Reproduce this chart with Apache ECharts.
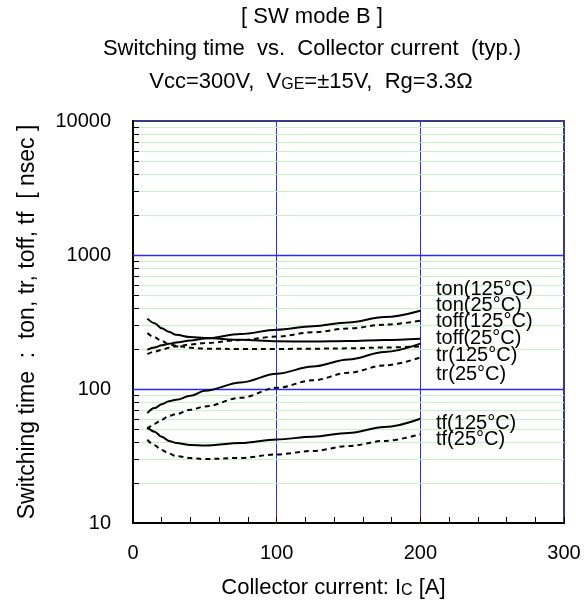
<!DOCTYPE html>
<html>
<head>
<meta charset="utf-8">
<script src="https://cdn.jsdelivr.net/npm/echarts@6/dist/echarts.min.js"></script>
<style>
html,body{margin:0;padding:0;background:#fff;}
#chart{width:587px;height:606px;}
</style>
</head>
<body>
<div id="chart"></div>
<script>
// Collector current [A]
const currents = [10, 15, 20, 25, 30, 40, 50, 75, 100, 125, 150, 175, 200];
// Switching times [nsec]
const ton125  = [196, 204, 212, 218, 222, 230, 238, 257, 277, 294, 314, 344, 384];
const ton25   = [182, 190, 196, 203, 208, 215, 220, 232, 246, 265, 283, 302, 323];
const toff125 = [335, 310, 284, 267, 254, 244, 240, 233, 227, 226, 228, 232, 237];
const toff25  = [262, 243, 228, 216, 210, 203, 200, 199, 199, 200, 201, 204, 208];
const tr125   = [66, 72, 77, 81, 83, 89, 97, 112, 130, 147, 166, 189, 218];
const tr25    = [50, 55, 59, 63, 65, 70, 74, 86, 102, 116, 132, 150, 172];
const tf125   = [52, 48, 44, 41, 39.6, 38.2, 37.9, 39.5, 42, 44, 47, 52, 60];
const tf25    = [41.8, 38, 35, 33, 31.6, 30.5, 30, 30.6, 32.5, 34.5, 37.5, 41, 46];

const seriesNames = ['ton(125°C)', 'ton(25°C)', 'toff(125°C)', 'toff(25°C)', 'tr(125°C)', 'tr(25°C)', 'tf(125°C)', 'tf(25°C)'];
const seriesData = [ton125, ton25, toff125, toff25, tr125, tr25, tf125, tf25];
const seriesDashed = [false, true, false, true, false, true, false, true];
const labelY = [289, 305, 321, 338, 355, 374, 423, 439];

const xTicks = [0, 100, 200, 300];
const yTicks = [10, 100, 1000, 10000];
const majorY = [100, 1000];
const minorY = [20,30,40,50,60,70,80,90,200,300,400,500,600,700,800,900,2000,3000,4000,5000,6000,7000,8000,9000];

const FONT = "'Liberation Sans', Arial, sans-serif";
const chart = echarts.init(document.getElementById('chart'), null, {renderer: 'canvas'});

const lineSeries = seriesData.map((arr, i) => ({
  type: 'line',
  name: seriesNames[i],
  data: currents.map((c, k) => [c, arr[k]]),
  showSymbol: false,
  smooth: 0.35,
  smoothMonotone: 'x',
  z: 3,
  lineStyle: {color: '#000', width: 2, type: seriesDashed[i] ? [5, 4] : 'solid'}
}));

function hLineSeries(values, color, withTick, z, w) {
  return {
    type: 'custom',
    z: z,
    silent: true,
    clip: false,
    data: values.map(v => [0, v]),
    renderItem: function (params, api) {
      const p = api.coord([0, api.value(1)]);
      const cs = params.coordSys;
      const y = Math.round(p[1]) + 0.5;
      const children = [
        {type: 'line', shape: {x1: cs.x, y1: y, x2: cs.x + cs.width, y2: y},
         style: {stroke: color, lineWidth: w}}
      ];
      if (withTick) {
        children.push({type: 'line', shape: {x1: cs.x, y1: y, x2: cs.x + 6, y2: y}, style: {stroke: '#000', lineWidth: 1}});
      }
      return {type: 'group', children: children};
    }
  };
}

const graphics = [
  {type: 'text', x: 312, y: 17, style: {text: '[ SW mode B ]', font: '22px ' + FONT, fill: '#000', textAlign: 'center', textVerticalAlign: 'middle'}},
  {type: 'text', x: 312, y: 49, style: {text: 'Switching time  vs.  Collector current  (typ.)', font: '22px ' + FONT, fill: '#000', textAlign: 'center', textVerticalAlign: 'middle'}},
  {type: 'text', x: 311, y: 80, style: {
    text: '{a|Vcc=300V,  V}{s|GE}{a|=±15V,  Rg=3.3Ω}',
    textAlign: 'center', textVerticalAlign: 'middle',
    rich: {
      a: {fontSize: 22, fontFamily: FONT, fill: '#000', lineHeight: 26, verticalAlign: 'bottom'},
      s: {fontSize: 16, fontFamily: FONT, fill: '#000', lineHeight: 22, verticalAlign: 'bottom'}
    }
  }}
].concat(seriesNames.map((n, i) => ({
  type: 'text', x: 436, y: labelY[i], z: 10,
  style: {text: n, font: '20px ' + FONT, fill: '#000', textAlign: 'left', textVerticalAlign: 'middle'}
})));

chart.setOption({
  animation: false,
  backgroundColor: '#fff',
  grid: {left: 133, right: 23, top: 121, bottom: 83, show: true, borderColor: '#3a3a80', borderWidth: 2, backgroundColor: 'transparent'},
  xAxis: {
    type: 'value', min: 0, max: 300, interval: 100,
    name: '{a|Collector current: I}{s|C}{a| [A]}',
    nameLocation: 'middle', nameGap: 50,
    nameTextStyle: {
      padding: [0, 30, 0, 0],
      rich: {
        a: {fontSize: 22, fontFamily: FONT, color: '#000', lineHeight: 26, verticalAlign: 'bottom'},
        s: {fontSize: 16, fontFamily: FONT, color: '#000', lineHeight: 22, verticalAlign: 'bottom'}
      }
    },
    axisLine: {show: true, onZero: false, lineStyle: {color: '#000', width: 2}},
    axisTick: {show: true, inside: true, length: 6, lineStyle: {color: '#000', width: 1}},
    minorTick: {show: true, splitNumber: 5, length: 6, lineStyle: {color: '#000', width: 1}},
    axisLabel: {fontSize: 20, fontFamily: FONT, color: '#000', margin: 20},
    splitLine: {show: true, showMinLine: false, showMaxLine: false, lineStyle: {color: '#2a2aff', width: 1}},
    minorSplitLine: {show: false}
  },
  yAxis: {
    type: 'log', logBase: 10, min: 10, max: 10000,
    name: 'Switching time  :  ton, tr, toff, tf  [ nsec ]',
    nameLocation: 'middle', nameGap: 94, nameRotate: 90,
    nameTextStyle: {fontSize: 23, fontFamily: FONT, color: '#000'},
    axisLine: {show: true, onZero: false, lineStyle: {color: '#000', width: 2}},
    axisTick: {show: false},
    minorTick: {show: false},
    axisLabel: {fontSize: 20, fontFamily: FONT, color: '#000', margin: 22, formatter: v => String(Math.round(v))},
    splitLine: {show: false},
    splitArea: {show: false},
    minorSplitLine: {show: false}
  },
  graphic: graphics,
  series: [hLineSeries(minorY, '#c6f2c6', true, 1, 1), hLineSeries(majorY, '#2a2aff', false, 2, 1.6)].concat(lineSeries)
});
</script>
</body>
</html>
